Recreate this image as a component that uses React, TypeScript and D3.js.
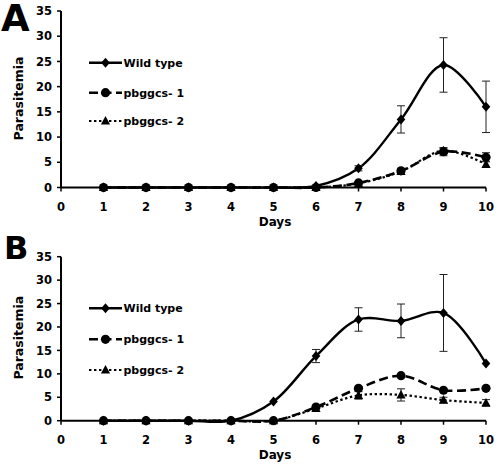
import React from "react";
import * as d3 from "d3";

const days = [1, 2, 3, 4, 5, 6, 7, 8, 9, 10];
const xTicks = [0, 1, 2, 3, 4, 5, 6, 7, 8, 9, 10];
const yTicks = [0, 5, 10, 15, 20, 25, 30, 35];
const seriesNames = ["Wild type", "pbggcs- 1", "pbggcs- 2"];

// Panel A
const aWild = [0, 0, 0, 0, 0, 0.3, 3.8, 13.5, 24.3, 16.0];
const aWildErr = [0, 0, 0, 0, 0, 0, 0.5, 2.7, 5.4, 5.1];
const aPb1 = [0, 0, 0, 0, 0, 0, 0.9, 3.3, 7.1, 6.0];
const aPb1Err = [0, 0, 0, 0, 0, 0, 0, 0.4, 0.8, 0.9];
const aPb2 = [0, 0, 0, 0, 0, 0, 0.8, 3.2, 7.3, 4.6];
const aPb2Err = [0, 0, 0, 0, 0, 0, 0, 0.3, 0.5, 0.6];

// Panel B
const bWild = [0, 0, 0, 0, 4.1, 13.8, 21.6, 21.3, 23.0, 12.2];
const bWildErr = [0, 0, 0, 0, 0, 1.4, 2.5, 3.6, 8.2, 0];
const bPb1 = [0, 0, 0, 0, 0, 2.9, 6.9, 9.6, 6.5, 6.9];
const bPb1Err = [0, 0, 0, 0, 0, 0, 0, 0, 0, 0];
const bPb2 = [0, 0, 0, 0, 0, 2.6, 5.4, 5.5, 4.4, 3.8];
const bPb2Err = [0, 0, 0, 0, 0, 0, 0.8, 1.3, 0.6, 0.7];

const FONT = "'DejaVu Sans', Verdana, sans-serif";

type Kind = "diamond" | "circle" | "triangle";

function Marker({ kind, x, y }: { kind: Kind; x: number; y: number }) {
  if (kind === "circle") return <circle cx={x} cy={y} r={4.6} fill="#000" />;
  if (kind === "diamond")
    return <path d={`M${x},${y - 5}L${x + 4.3},${y}L${x},${y + 5}L${x - 4.3},${y}Z`} fill="#000" />;
  return <path d={`M${x},${y - 5}L${x + 4.6},${y + 3.6}L${x - 4.6},${y + 3.6}Z`} fill="#000" />;
}

const styles = [
  { kind: "diamond" as Kind, dash: undefined as string | undefined, width: 2.4 },
  { kind: "circle" as Kind, dash: "9,4.5", width: 2.6 },
  { kind: "triangle" as Kind, dash: "2.4,2.6", width: 2.2 },
];

function Panel({
  letter,
  letterY,
  letterSize,
  y0,
  y35,
  series,
  errs,
  legendY,
  labelY,
}: {
  letter: string;
  letterY: number;
  letterSize: number;
  y0: number;
  y35: number;
  series: number[][];
  errs: number[][];
  legendY: number[];
  labelY: number;
}) {
  const x = d3.scaleLinear().domain([0, 10]).range([61, 486]);
  const y = d3.scaleLinear().domain([0, 35]).range([y0, y35]);
  const line = d3
    .line<number>()
    .x((_, i) => x(days[i]))
    .y((d) => y(d))
    .curve(d3.curveCatmullRom.alpha(0.5));

  return (
    <g fontFamily={FONT} fontWeight="bold">
      <text x={letter === "A" ? 1 : 4} y={letterY} fontSize={letterSize} fill="#000">
        {letter}
      </text>
      {/* axes */}
      <line x1={x(0)} x2={x(0)} y1={y(35)} y2={y(0)} stroke="#000" strokeWidth={2} />
      <line x1={x(0)} x2={x(10)} y1={y(0)} y2={y(0)} stroke="#000" strokeWidth={2} />
      {yTicks.map((t) => (
        <g key={"y" + t}>
          <line x1={x(0) - 4} x2={x(0)} y1={y(t)} y2={y(t)} stroke="#000" strokeWidth={1.5} />
          <text x={52} y={y(t)} dy="0.36em" textAnchor="end" fontSize={11.5} fill="#000">
            {t}
          </text>
        </g>
      ))}
      {xTicks.map((t) => (
        <g key={"x" + t}>
          <line x1={x(t)} x2={x(t)} y1={y(0)} y2={y(0) + 4} stroke="#000" strokeWidth={1.5} />
          <text x={x(t)} y={y(0) + 23.5} textAnchor="middle" fontSize={11.5} fill="#000">
            {t}
          </text>
        </g>
      ))}
      <text x={275} y={y(0) + 38} textAnchor="middle" fontSize={12} fill="#000">
        Days
      </text>
      <text
        transform={`translate(23,${labelY}) rotate(-90)`}
        textAnchor="middle"
        fontSize={12.5}
        fill="#000"
      >
        Parasitemia
      </text>
      {/* series lines */}
      {series.map((s, si) => (
        <path
          key={"l" + si}
          d={line(s) || ""}
          fill="none"
          stroke="#000"
          strokeWidth={styles[si].width}
          strokeDasharray={styles[si].dash}
        />
      ))}
      {/* error bars */}
      {series.map((s, si) =>
        s.map((v, i) =>
          errs[si][i] > 0 ? (
            <g key={`e${si}-${i}`} stroke="#222" strokeWidth={1}>
              <line x1={x(days[i])} x2={x(days[i])} y1={y(v + errs[si][i])} y2={y(v - errs[si][i])} />
              <line x1={x(days[i]) - 4} x2={x(days[i]) + 4} y1={y(v + errs[si][i])} y2={y(v + errs[si][i])} />
              <line x1={x(days[i]) - 4} x2={x(days[i]) + 4} y1={y(v - errs[si][i])} y2={y(v - errs[si][i])} />
            </g>
          ) : null
        )
      )}
      {/* markers */}
      {series.map((s, si) =>
        s.map((v, i) => <Marker key={`m${si}-${i}`} kind={styles[si].kind} x={x(days[i])} y={y(v)} />)
      )}
      {/* legend */}
      {seriesNames.map((n, si) => (
        <g key={"lg" + si}>
          <line
            x1={89}
            x2={122}
            y1={legendY[si]}
            y2={legendY[si]}
            stroke="#000"
            strokeWidth={styles[si].width}
            strokeDasharray={styles[si].dash}
          />
          <Marker kind={styles[si].kind} x={105.5} y={legendY[si]} />
          <text x={123.5} y={legendY[si]} dy="0.36em" fontSize={11} fill="#000">
            {n}
          </text>
        </g>
      ))}
    </g>
  );
}

export default function App() {
  return (
    <svg
      width={498}
      height={464}
      style={{ position: "absolute", left: 0, top: 0, background: "#fff" }}
    >
      <rect width={498} height={464} fill="#fff" />
      <Panel
        letter="A"
        letterY={30.5}
        letterSize={37}
        y0={187.5}
        y35={11}
        series={[aWild, aPb1, aPb2]}
        errs={[aWildErr, aPb1Err, aPb2Err]}
        legendY={[62.7, 92.7, 121]}
        labelY={98.5}
      />
      <Panel
        letter="B"
        letterY={258.5}
        letterSize={32}
        y0={420.7}
        y35={256.7}
        series={[bWild, bPb1, bPb2]}
        errs={[bWildErr, bPb1Err, bPb2Err]}
        legendY={[308.3, 339.3, 370]}
        labelY={337.7}
      />
    </svg>
  );
}
